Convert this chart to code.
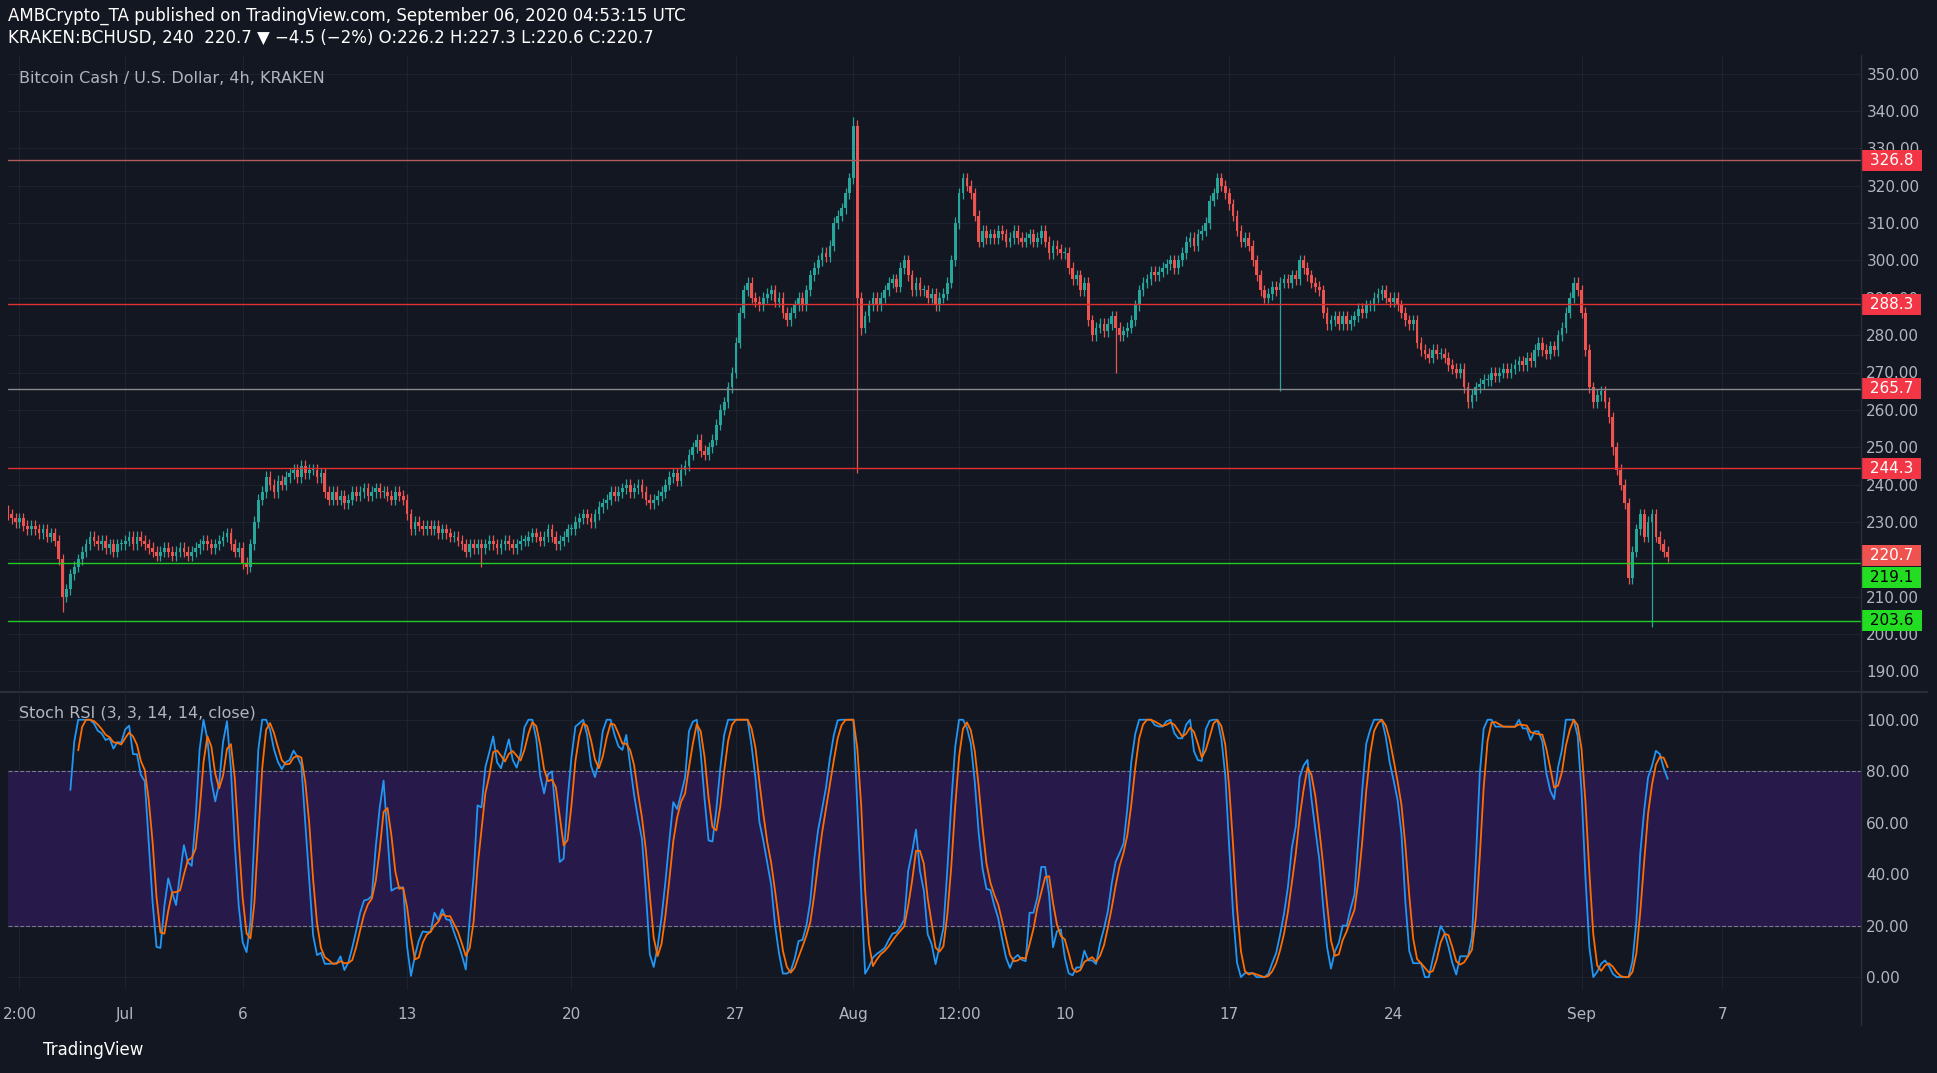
import numpy as np, pandas as pd, seaborn as sns, matplotlib
matplotlib.use("Agg")
import matplotlib.pyplot as plt
from matplotlib.patches import Rectangle

# 4h closes, one row per day, Jun 26 .. Sep 5 2020
daily_closes = [
 [232,231,230,231,229,228],[229,228,227,228,226,227],[225,220,210,212,216,218],
 [220,222,224,226,225,224],[225,223,224,222,224,224],[225,226,224,226,225,224],
 [223,222,221,222,223,222],[221,222,223,222,221,222],[223,224,225,224,223,224],
 [225,226,227,224,222,223],[219,218,224,230,236,238],[242,240,238,241,240,242],
 [243,244,242,245,243,244],[244,242,243,238,236,238],[236,237,235,236,238,237],
 [238,239,237,238,239,238],[238,237,236,238,237,236],[232,228,230,229,228,229],
 [228,229,227,228,227,226],[226,225,224,222,224,223],[224,223,224,225,224,223],
 [224,225,224,223,224,225],[225,226,227,226,225,226],[228,226,224,225,226,228],
 [228,230,231,232,231,230],[232,234,235,236,238,237],[238,239,240,238,239,240],
 [238,236,235,236,237,238],[240,242,243,241,244,245],[248,250,252,249,248,250],
 [252,256,260,262,266,270],[278,286,292,294,290,289],[288,290,291,292,289,290],
 [286,284,286,288,290,288],[292,296,298,300,302,301],[304,310,312,314,318,322],
 [336,290,282,285,288,290],[288,290,292,294,295,293],[298,300,296,292,294,292],
 [292,290,291,288,290,291],[294,300,310,318,322,320],[318,312,305,308,306,307],
 [306,308,307,305,306,308],[306,305,306,307,305,306],[308,305,302,304,303,302],
 [302,298,295,296,292,294],[284,280,282,283,281,283],[285,282,280,281,282,284],
 [288,292,294,295,297,296],[297,298,299,300,298,300],[302,305,306,304,307,308],
 [310,316,318,322,320,318],[315,312,308,305,306,304],[300,296,292,290,291,293],
 [292,294,295,294,296,295],[300,298,296,294,293,292],[286,283,284,285,283,285],
 [283,284,285,287,286,288],[288,290,291,292,290,289],[290,288,286,284,283,284],
 [278,276,275,274,276,275],[275,274,272,271,270,271],[266,262,264,266,267,268],
 [268,270,269,270,271,270],[271,272,273,272,274,273],[276,278,276,275,277,276],
 [280,282,286,290,294,292],[286,276,266,262,264,265],[262,258,250,244,240,235],
 [215,222,228,232,226,230],[232,226,224,222,220.7],
]
# candle index -> (high, low) for long wicks
spikes = {14: (None, 206), 61: (None, 216), 121: (None, 218), 216: (338.5, None),
          217: (None, 243), 218: (None, 280), 283: (None, 270), 325: (None, 265),
          410: (None, 248), 420: (None, 202), 426: (None, 214)}
h_levels = [326.8, 288.3, 265.7, 244.3, 219.1, 203.6]
h_colors = ['#b45c5c', '#e03030', '#8a8a8a', '#e03030', '#22cc22', '#22cc22']
label_boxes = ['#f23645', '#f23645', '#f23645', '#f23645', '#22dd22', '#22dd22']
label_pos = [326.8, 288.3, 265.7, 244.3, 215.0, 203.6]
x_ticks = ['2:00', 'Jul', '6', '13', '20', '27', 'Aug', '12:00', '10', '17', '24', 'Sep', '7']
x_tick_times = ['2020-06-26 12:00', '2020-07-01', '2020-07-06', '2020-07-13', '2020-07-20',
                '2020-07-27', '2020-08-01', '2020-08-05 12:00', '2020-08-10', '2020-08-17',
                '2020-08-24', '2020-09-01', '2020-09-07']

closes = np.array([v for d in daily_closes for v in d], float)
n = len(closes)
opens = np.r_[closes[0] + 1, closes[:-1]]
highs = np.maximum(opens, closes) + 1.5
lows = np.minimum(opens, closes) - 1.5
for i, (h, l) in spikes.items():
    if i < n:
        if h: highs[i] = h
        if l: lows[i] = l
t0 = pd.Timestamp('2020-06-26')
def tx(ts): return (pd.Timestamp(ts) - t0) / pd.Timedelta(hours=4)
x = np.arange(n)

# stoch RSI
s = pd.Series(closes)
d = s.diff()
up = d.clip(lower=0).ewm(alpha=1/14, adjust=False).mean()
dn = (-d.clip(upper=0)).ewm(alpha=1/14, adjust=False).mean()
rsi = 100 - 100 / (1 + up / dn)
st = (rsi - rsi.rolling(14).min()) / (rsi.rolling(14).max() - rsi.rolling(14).min()) * 100
k = st.rolling(3).mean(); dline = k.rolling(3).mean()

bg = '#131722'; tc = '#b2b5be'
fig = plt.figure(figsize=(19.37, 10.73), dpi=100, facecolor=bg)
sns.set_style('dark')
H = 1073
ax = fig.add_axes([0.004, 1 - 690/H, 0.957, 635/H], facecolor=bg)
ax2 = fig.add_axes([0.004, 1 - 990/H, 0.957, 296/H], facecolor=bg, sharex=ax)
xmin, xmax = 0, tx('2020-09-12 22:00')
for a in (ax, ax2):
    a.set_xlim(xmin, xmax)
    for sp in a.spines.values(): sp.set_visible(False)
    a.yaxis.tick_right(); a.tick_params(colors=tc, labelsize=11, length=0)
    a.grid(True, color='#1e2230', lw=0.8)
    a.set_xticks([tx(t) for t in x_tick_times])
ax.set_ylim(185, 355)
ax.set_yticks(np.arange(190, 351, 10))
ax.set_yticklabels([f'{v:.2f}' for v in np.arange(190, 351, 10)])
ax.tick_params(labelbottom=False)
up_c, dn_c = '#26a69a', '#ef5350'
for i in range(n):
    c = up_c if closes[i] >= opens[i] else dn_c
    ax.vlines(x[i], lows[i], highs[i], color=c, lw=0.9)
    ax.add_patch(Rectangle((x[i] - 0.35, min(opens[i], closes[i])), 0.7,
                           max(abs(closes[i] - opens[i]), 0.3), color=c, lw=0))
for lv, col, bc, lp in zip(h_levels, h_colors, label_boxes, label_pos):
    ax.axhline(lv, color=col, lw=1)
    ax.text(1.002, lp, f' {lv:.1f} ', transform=ax.get_yaxis_transform(), va='center',
            ha='left', color='black' if bc == '#22dd22' else 'white', fontsize=11,
            bbox=dict(boxstyle='square,pad=0.2', fc=bc, ec='none'))
ax.text(1.002, 221.0, f' {closes[-1]:.1f} ', transform=ax.get_yaxis_transform(),
        va='center', ha='left', color='white', fontsize=11,
        bbox=dict(boxstyle='square,pad=0.2', fc='#ef5350', ec='none'))
ax.text(0.006, 0.975, 'Bitcoin Cash / U.S. Dollar, 4h, KRAKEN', transform=ax.transAxes,
        color=tc, fontsize=11.5, va='top')

ax2.set_ylim(-5, 110)
ax2.set_yticks(np.arange(0, 101, 20))
ax2.set_yticklabels([f'{v:.2f}' for v in np.arange(0, 101, 20)])
ax2.axhspan(20, 80, color='#2a1a4e', alpha=0.95)
ax2.axhline(80, color='#787b86', ls='--', lw=0.8); ax2.axhline(20, color='#787b86', ls='--', lw=0.8)
sns.lineplot(x=x, y=k.values, ax=ax2, color='#2196f3', lw=1.3)
sns.lineplot(x=x, y=dline.values, ax=ax2, color='#ff6d00', lw=1.3)
ax2.set_xticklabels(x_ticks)
ax2.tick_params(axis='x', colors=tc, labelsize=11, pad=12)
ax2.text(0.006, 0.96, 'Stoch RSI (3, 3, 14, 14, close)', transform=ax2.transAxes,
         color=tc, fontsize=11.5, va='top')
fig.add_artist(plt.Line2D([0, 0.995], [1 - 692/H] * 2, color='#2a2e39', lw=1.5))
fig.add_artist(plt.Line2D([0.961, 0.961], [1 - 1025/H, 1 - 55/H], color='#2a2e39', lw=1))
fig.text(0.004, 1 - 16/H, 'AMBCrypto_TA published on TradingView.com, September 06, 2020 04:53:15 UTC',
         color='white', fontsize=12, va='center')
fig.text(0.004, 1 - 38/H, 'KRAKEN:BCHUSD, 240  220.7 \u25bc −4.5 (−2%) O:226.2 H:227.3 L:220.6 C:220.7',
         color='white', fontsize=12, va='center')
fig.text(0.022, 1 - 1050/H, 'TradingView', color='white', fontsize=12, va='center')
fig.savefig('out.png', dpi=100, facecolor=bg)
